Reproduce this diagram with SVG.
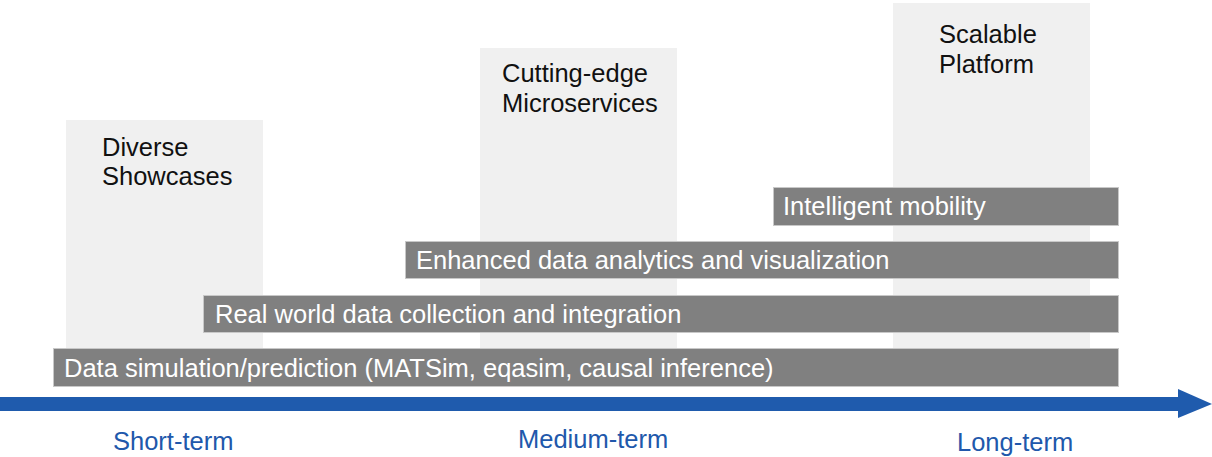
<svg xmlns="http://www.w3.org/2000/svg" width="1212" height="457" viewBox="0 0 1212 457">
  <style>
    .col { fill: #f0f0f0; }
    .bar { fill: #808080; stroke: #c8c8c8; stroke-width: 1; }
    .title { font-family: "Liberation Sans", Arial, sans-serif; font-size: 25.5px; fill: #111111; }
    .bartxt { font-family: "Liberation Sans", Arial, sans-serif; font-size: 25.5px; fill: #ffffff; }
    .term { font-family: "Liberation Sans", Arial, sans-serif; font-size: 25.5px; fill: #2158ab; }
  </style>
  <rect width="1212" height="457" fill="#ffffff"/>

  <!-- stage columns -->
  <g id="stage-short">
    <rect class="col" x="66" y="120" width="197" height="267"/>
    <text class="title" x="102" y="156">Diverse</text>
    <text class="title" x="102" y="185">Showcases</text>
  </g>
  <g id="stage-medium">
    <rect class="col" x="480" y="48" width="197" height="339"/>
    <text class="title" x="502" y="82">Cutting-edge</text>
    <text class="title" x="502" y="112">Microservices</text>
  </g>
  <g id="stage-long">
    <rect class="col" x="893" y="3" width="197" height="384"/>
    <text class="title" x="939" y="43">Scalable</text>
    <text class="title" x="939" y="73">Platform</text>
  </g>

  <!-- work streams -->
  <g id="stream-mobility">
    <rect class="bar" x="773.5" y="187.5" width="345" height="38"/>
    <text class="bartxt" x="783" y="215">Intelligent mobility</text>
  </g>
  <g id="stream-analytics">
    <rect class="bar" x="405.5" y="241.5" width="713" height="37"/>
    <text class="bartxt" x="416" y="269">Enhanced data analytics and visualization</text>
  </g>
  <g id="stream-collection">
    <rect class="bar" x="203.5" y="295.5" width="915" height="37"/>
    <text class="bartxt" x="215" y="323">Real world data collection and integration</text>
  </g>
  <g id="stream-simulation">
    <rect class="bar" x="53.5" y="348.5" width="1065" height="38"/>
    <text class="bartxt" x="64" y="377">Data simulation/prediction (MATSim, eqasim, causal inference)</text>
  </g>

  <!-- time axis -->
  <g id="connectors">
    <rect x="0" y="397" width="1179" height="14" fill="#1f5bad"/>
    <polygon points="1178,389 1212,404 1178,418" fill="#1f5bad"/>
  </g>

  <g id="axis-labels">
    <text class="term" x="113" y="450">Short-term</text>
    <text class="term" x="518" y="448">Medium-term</text>
    <text class="term" x="957" y="451">Long-term</text>
  </g>
</svg>
